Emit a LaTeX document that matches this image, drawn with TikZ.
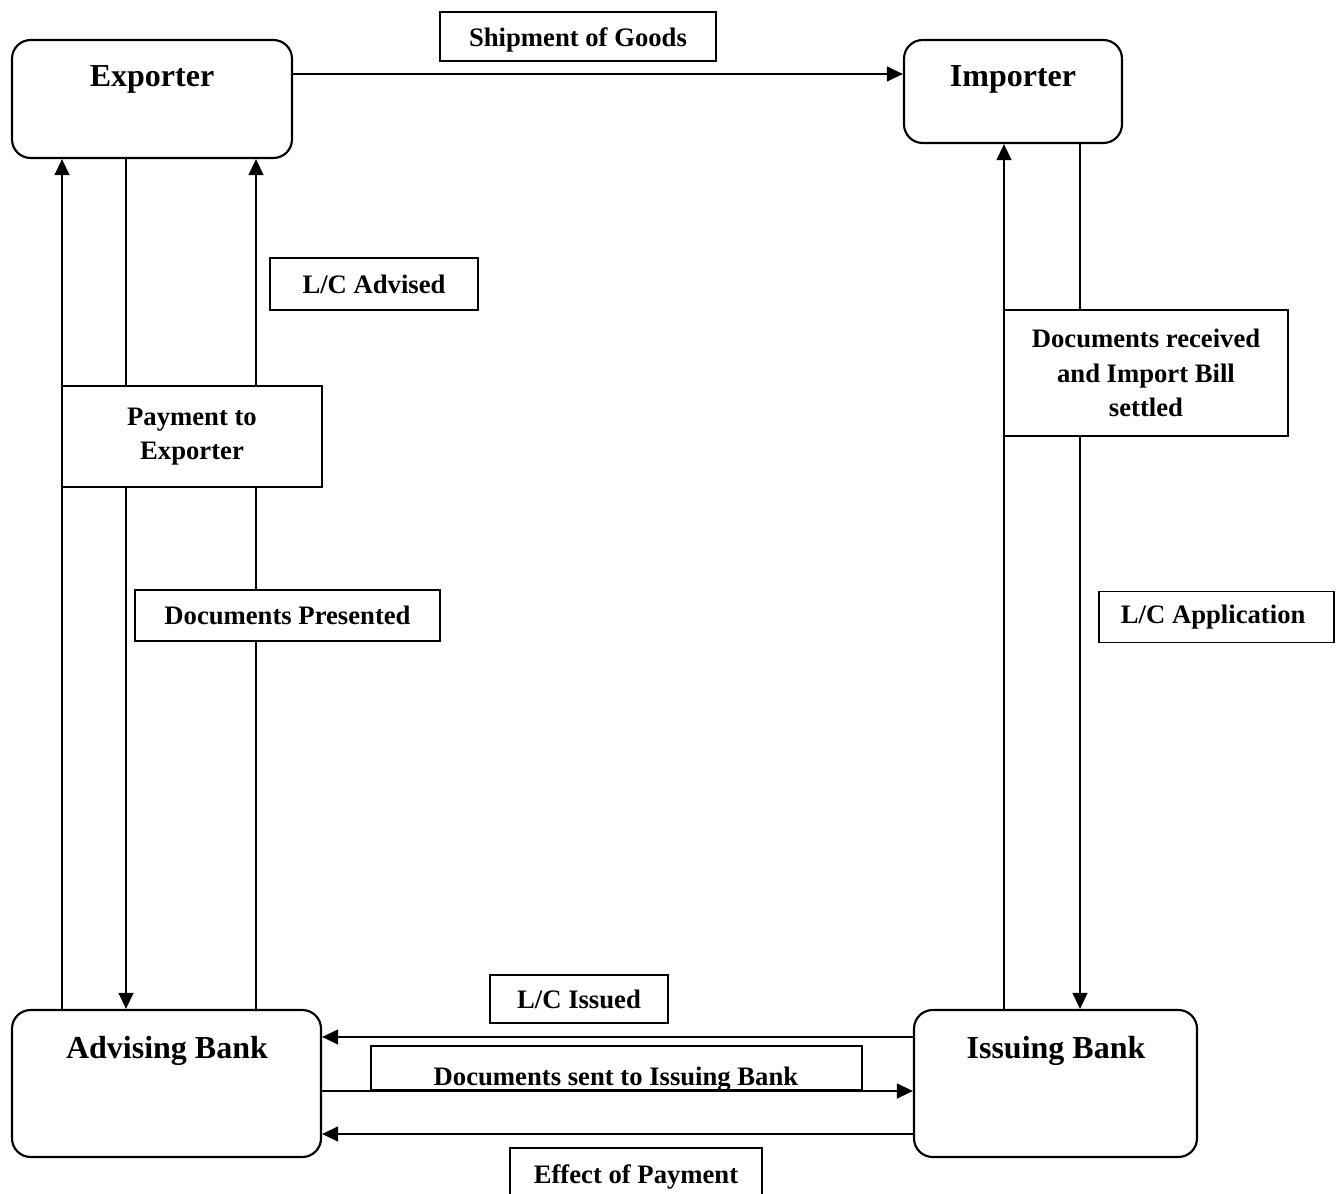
\documentclass[tikz,border=0pt]{standalone}
\usepackage{fontspec}
\setmainfont{Liberation Serif}
\usetikzlibrary{arrows.meta}
\begin{document}
\begin{tikzpicture}[x=0.75pt,y=-0.75pt,
  party/.style={draw, line width=1.6pt, rounded corners=14pt, fill=white, inner sep=0pt},
  lblbox/.style={draw, line width=1.4pt, fill=white, inner sep=0pt},
  lbl/.style={font=\bfseries\fontsize{20}{26}\selectfont, align=center},
  big/.style={font=\bfseries\fontsize{24}{29}\selectfont, anchor=base},
  flow/.style={line width=1.7pt, -{Triangle[length=12pt,width=11pt]}},
]
\useasboundingbox (0,0) rectangle (1339,1194);

% parties
\node[party, minimum width=210pt, minimum height=88.5pt] (exp) at (152,99) {};
\node[big] (expt) at (152,87) {Exporter};
\node[party, minimum width=163.5pt, minimum height=77.25pt] (imp) at (1013,91.5) {};
\node[big] (impt) at (1013,87) {Importer};
\node[party, minimum width=231.75pt, minimum height=110.25pt] (advb) at (166.5,1083.5) {};
\node[big] (advt) at (167,1058) {Advising Bank};
\node[party, minimum width=212.25pt, minimum height=110.25pt] (issb) at (1055.5,1083.5) {};
\node[big] (isst) at (1056,1058) {Issuing Bank};

% helper coordinates for connector positions
\coordinate (xa) at (62,0);
\coordinate (xb) at (126,0);
\coordinate (xc) at (256,0);
\coordinate (xd) at (1004,0);
\coordinate (xe) at (1080,0);
\coordinate (ya) at (0,74);
\coordinate (yb) at (0,1037);
\coordinate (yc) at (0,1091);
\coordinate (yd) at (0,1134);

% vertical connectors
\draw[flow] (advb.north -| xa) -- (exp.south -| xa);
\draw[flow] (exp.south -| xb) -- (advb.north -| xb);
\draw[flow] (advb.north -| xc) -- (exp.south -| xc);
\draw[flow] (issb.north -| xd) -- (imp.south -| xd);
\draw[flow] (imp.south -| xe) -- (issb.north -| xe);

% labels
\node[lblbox, minimum width=207pt, minimum height=36.75pt] (ship) at (578,36.5) {};
\node[lbl] (shipt) at (578,40) {Shipment of Goods};
\node[lblbox, lbl, minimum width=156pt, minimum height=39pt] (lcadv) at (374,284) {L/C Advised};
\node[lblbox, lbl, minimum width=195pt, minimum height=75.75pt] (pay) at (192,436.5) {Payment to\\Exporter};
\node[lblbox, lbl, minimum width=228.75pt, minimum height=38.25pt] (docp) at (287.5,615.5) {Documents Presented};
\node[lblbox, lbl, minimum width=213pt, minimum height=94.5pt] (docr) at (1146,373) {Documents received\\and Import Bill\\settled};
\node[lblbox, lbl, minimum width=176.25pt, minimum height=38.25pt] (lcapp) at (1216.5,617) {L/C Application\hspace*{5pt}};
\node[lblbox, lbl, minimum width=133.5pt, minimum height=36pt] (lciss) at (579,999) {L/C Issued};
\node[lblbox, minimum width=368.25pt, minimum height=33pt] (dsent) at (616.5,1068) {};
\begin{scope}
  \clip (dsent.north west) rectangle (dsent.south east);
  \node[lbl, anchor=base] (dsentt) at (616,1085) {Documents sent to Issuing Bank};
\end{scope}
\begin{scope}
  \clip (0,0) rectangle (1339,1194);
  \node[lblbox, lbl, minimum width=189pt, minimum height=44pt] (eff) at (636,1177) {Effect of Payment};
\end{scope}

% horizontal connectors
\draw[flow] (exp.east |- ya) -- (imp.west |- ya);
\draw[flow] (issb.west |- yb) -- (advb.east |- yb);
\draw[flow] (advb.east |- yc) -- (issb.west |- yc);
\draw[flow] (issb.west |- yd) -- (advb.east |- yd);
\end{tikzpicture}
\end{document}
